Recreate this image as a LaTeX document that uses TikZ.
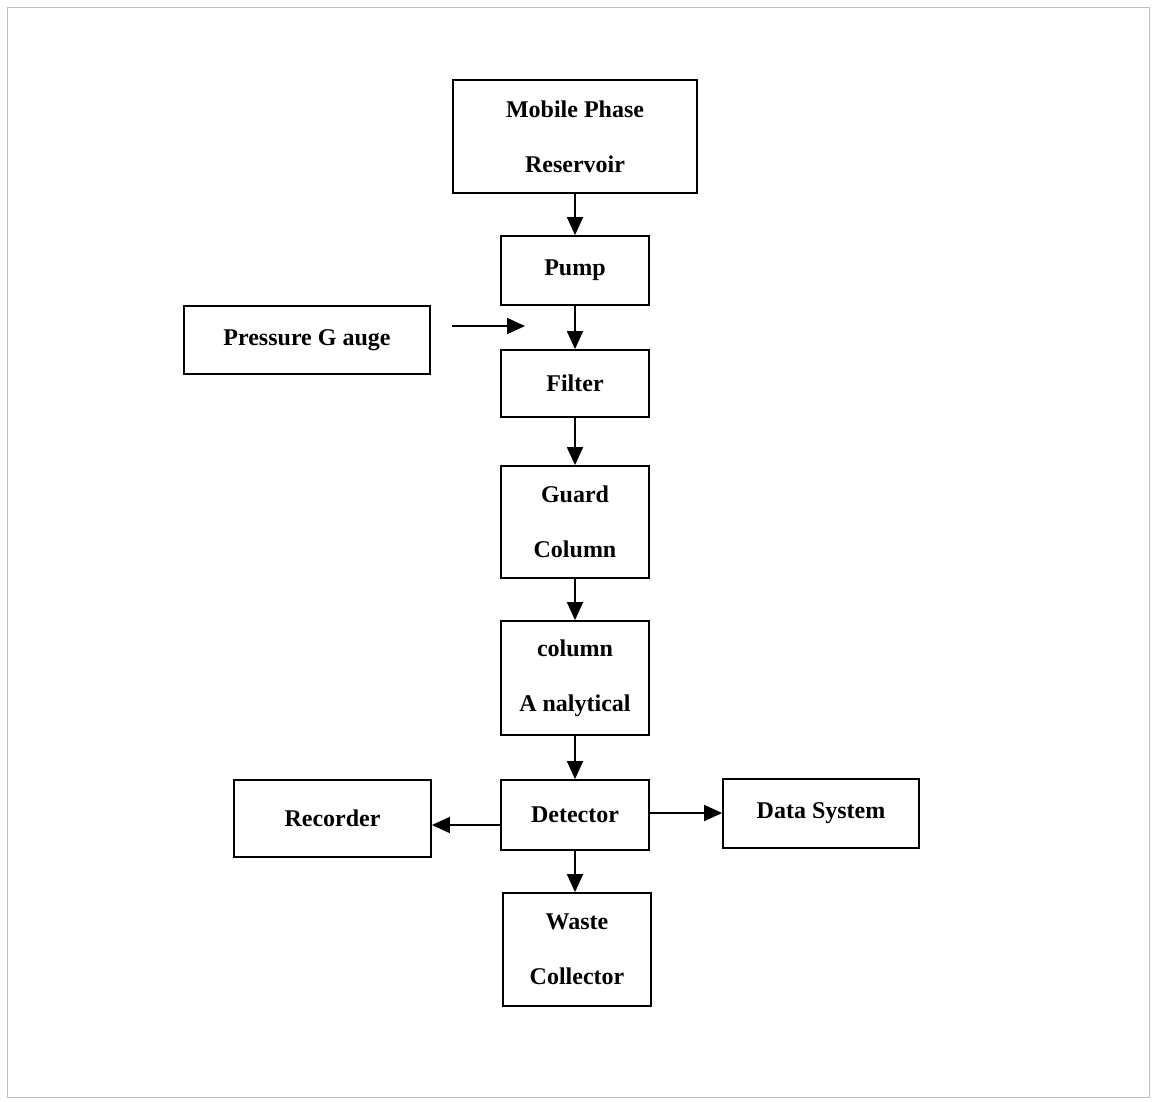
\documentclass[tikz,border=0pt]{standalone}
\usepackage{fontspec}
\setmainfont{Liberation Serif}
\usetikzlibrary{arrows.meta}
\begin{document}
\begin{tikzpicture}[x=1pt,y=-1pt,
  box/.style={draw, line width=1.8pt, inner sep=0pt, font=\bfseries\fontsize{24}{55}\selectfont, align=center},
  flow/.style={line width=1.8pt, -{Triangle[length=18pt,width=16pt]}}]
\useasboundingbox (0,0) rectangle (1153,1101);
\draw[black!25, line width=0.8pt] (7,7) rectangle (1149,1097);
% boxes
\node[box, minimum width=244pt, minimum height=113pt] (res) at (575,136.5) {Mobile Phase\\Reservoir};
\node[box, minimum width=148pt, minimum height=69pt] (pump) at (575,270.5) {Pump};
\node[box, minimum width=246pt, minimum height=68pt] (pg) at (307,340) {Pressure G auge};
\node[box, minimum width=148pt, minimum height=67pt] (filter) at (575,383.5) {Filter};
\node[box, minimum width=148pt, minimum height=112pt] (guard) at (575,522) {Guard\\Column};
\node[box, minimum width=148pt, minimum height=114pt] (col) at (575,678) {column\\A nalytical};
\node[box, minimum width=148pt, minimum height=70pt] (det) at (575,815) {Detector};
\node[box, minimum width=197pt, minimum height=77pt] (rec) at (332.5,818.5) {Recorder};
\node[box, minimum width=196pt, minimum height=69pt] (data) at (821,813.5) {Data System};
\node[box, minimum width=148pt, minimum height=113pt] (waste) at (577,949.5) {Waste\\Collector};
% connectors
\draw[flow] (res.south) -- (pump.north);
\draw[flow] (pump.south) -- (filter.north);
\draw[flow] (filter.south) -- (guard.north);
\draw[flow] (guard.south) -- (col.north);
\draw[flow] (col.south) -- (det.north);
\draw[flow] (det.south) -- (waste.north -| det.south);
\draw[flow] (det.west |- 0,825) -- (rec.east |- 0,825);
\draw[flow] (det.east |- 0,813) -- (data.west |- 0,813);
\coordinate (pgs) at (452,326);
\coordinate (pge) at (525,326);
\draw[flow] (pgs) -- (pge);
\end{tikzpicture}
\end{document}
